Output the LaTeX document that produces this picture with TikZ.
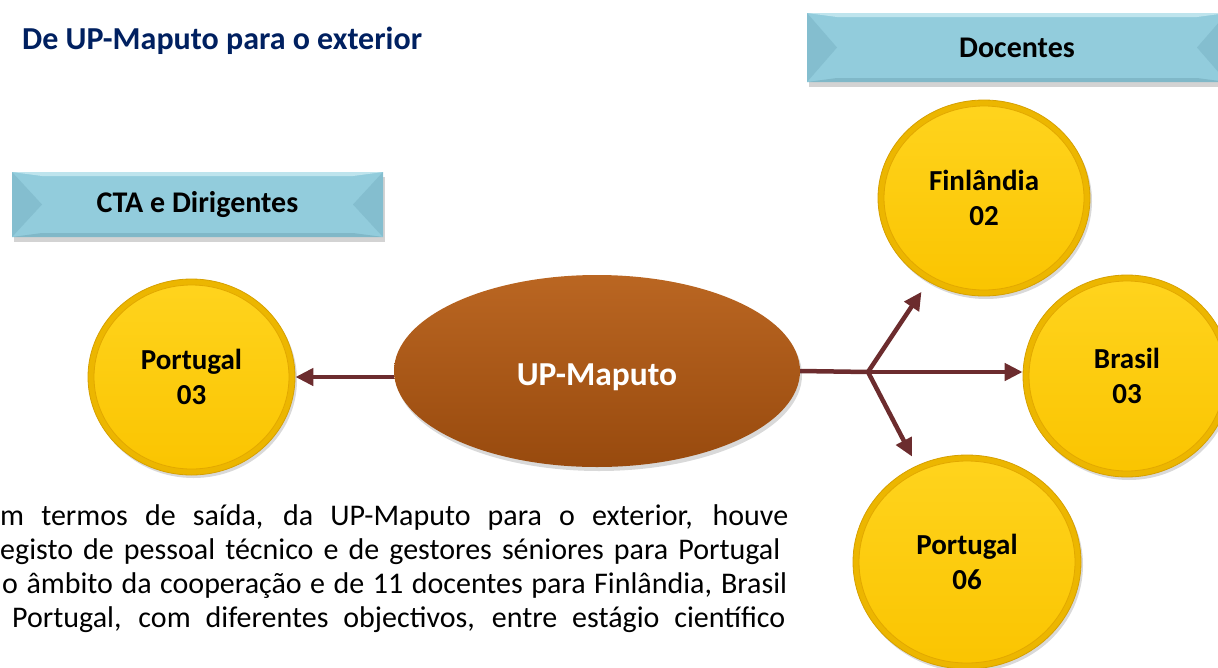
\documentclass[tikz,border=0pt]{standalone}
\usepackage{fontspec}
\setmainfont{Carlito}
\usetikzlibrary{arrows.meta,shadows,shapes.geometric,calc}
\definecolor{navy}{RGB}{0,32,96}
\definecolor{goldrim}{RGB}{236,182,0}
\definecolor{golddark}{RGB}{214,160,0}
\definecolor{goldtop}{RGB}{255,212,30}
\definecolor{goldbot}{RGB}{250,196,0}
\definecolor{goldline}{RGB}{226,168,0}
\definecolor{browntop}{RGB}{186,102,34}
\definecolor{brownbot}{RGB}{152,74,14}
\definecolor{arrowc}{RGB}{108,44,46}
\definecolor{banmain}{RGB}{146,204,220}
\definecolor{banlight}{RGB}{190,228,237}
\definecolor{bandark}{RGB}{132,190,207}
\definecolor{banbottom}{RGB}{128,184,200}
\begin{document}
\begin{tikzpicture}[x=1pt,y=-1pt,
  ball/.style={ellipse, inner sep=0pt, fill=goldrim, draw=golddark, line width=0.8pt,
    align=center, font=\bfseries\fontsize{29}{35}\selectfont, text=black,
    drop shadow={shadow xshift=2pt,shadow yshift=-3pt,opacity=0.3},
    path picture={
      \path let \p1=($(path picture bounding box.north east)-(path picture bounding box.center)$) in
        [top color=goldtop, bottom color=goldbot, draw=goldline, line width=0.8pt]
        (path picture bounding box.center) ellipse [x radius=\x1-6pt, y radius=\y1-6pt];
    }},
  banner/.style={rectangle, inner sep=0pt, fill=banmain, font=\bfseries\fontsize{30}{36}\selectfont,
    drop shadow={shadow xshift=2pt,shadow yshift=-5pt,opacity=0.35},
    path picture={
      \fill[banlight] (path picture bounding box.north west) -- (path picture bounding box.north east)
        -- ([xshift=-30pt,yshift=-4pt]path picture bounding box.north east)
        -- ([xshift=30pt,yshift=-4pt]path picture bounding box.north west) -- cycle;
      \fill[banbottom] (path picture bounding box.south west) -- (path picture bounding box.south east)
        -- ([xshift=-30pt,yshift=4pt]path picture bounding box.south east)
        -- ([xshift=30pt,yshift=4pt]path picture bounding box.south west) -- cycle;
      \fill[bandark] (path picture bounding box.north west) -- ([xshift=30pt]path picture bounding box.west)
        -- (path picture bounding box.south west) -- cycle;
      \fill[bandark] (path picture bounding box.north east) -- ([xshift=-30pt]path picture bounding box.east)
        -- (path picture bounding box.south east) -- cycle;
    }},
  arr/.style={draw=arrowc, line width=4.5pt, -{Triangle[length=18pt,width=17pt]}},
  link/.style={draw=arrowc, line width=4.5pt},
  body/.style={anchor=base west, inner sep=0pt, font=\fontsize{30}{35}\selectfont, text=black}
]
\useasboundingbox (0,0) rectangle (1218,667);
\clip (0,0) rectangle (1218,667);

% title
\node[anchor=base west, inner sep=0pt, font=\bfseries\fontsize{32}{38}\selectfont, text=navy] (title) at (22,49.5) {De UP-Maputo para o exterior};

% banners
\node[banner, minimum width=420pt, minimum height=69pt] (doc) at (1017,47.5) {Docentes};
\node[banner, minimum width=371pt, minimum height=65pt] (cta) at (197.5,204.5) {CTA e Dirigentes};

% central ellipse
\node[ellipse, inner sep=0pt, minimum width=406pt, minimum height=192pt,
  top color=browntop, bottom color=brownbot, text=white,
  font=\bfseries\fontsize{33.5}{40}\selectfont,
  drop shadow={shadow xshift=2pt,shadow yshift=-4pt,opacity=0.3}] (up) at (597,371) {\raisebox{-14pt}[0pt][0pt]{UP-Maputo}};

% balls
\node[ball, minimum width=207pt, minimum height=196pt] (pl) at (191.5,377) {Portugal\\03};
\node[ball, minimum width=212pt, minimum height=196pt] (fin) at (984,198) {Finlândia\\02};
\node[ball, minimum width=208pt, minimum height=202pt] (bra) at (1127,376) {Brasil\\03};
\node[ball, minimum width=228pt, minimum height=214pt] (pr) at (967,562) {Portugal\\06};

% connectors
\coordinate (br) at (868,372);
\draw[arr] (pl.east -| up.west) -- (pl.east);
\draw[link] (up.east) -- (br);
\draw[arr, shorten >=12pt] (br) -- (fin);
\draw[arr] (br) -- (br -| bra.west);
\draw[arr, shorten >=10pt] (br) -- (pr);

% body text
\node[body] (l1) at (0,525) {\makebox[788pt][s]{m termos de saída, da UP-Maputo para o exterior, houve}};
\node[body] (l2) at (0,559.5) {\makebox[780pt][s]{egisto de pessoal técnico e de gestores séniores para Portugal}};
\node[body] (l3) at (2,593.5) {\makebox[785pt][s]{o âmbito da cooperação e de 11 docentes para Finlândia, Brasil}};
\node[body] (l4) at (12,627.5) {\makebox[773pt][s]{Portugal, com diferentes objectivos, entre estágio científico}};
\end{tikzpicture}
\end{document}
